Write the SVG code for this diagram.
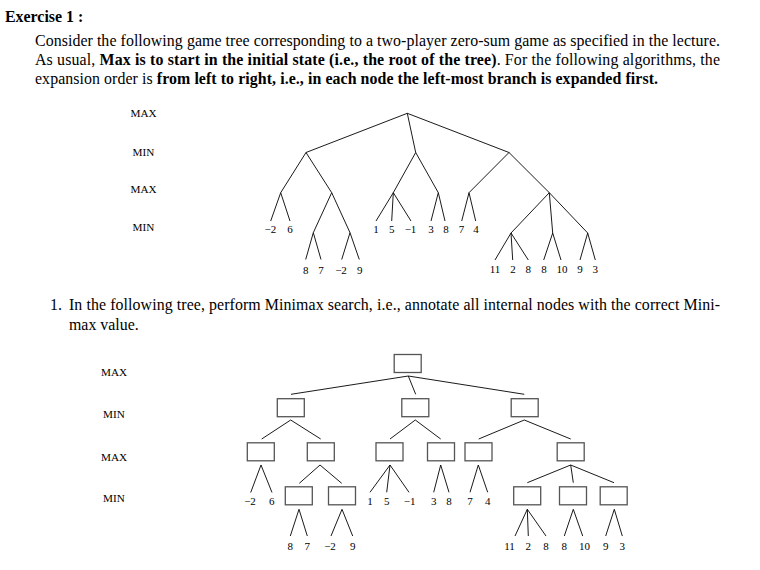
<svg xmlns="http://www.w3.org/2000/svg" width="760" height="570" viewBox="0 0 760 570">
<style>
.body{font-family:"Liberation Serif","Times New Roman",serif;font-size:15.9px;fill:#000}
.b{font-weight:bold}
.lvl{font-family:"Liberation Serif","Times New Roman",serif;font-size:11.2px;fill:#000;text-anchor:middle}
.num{font-family:"Liberation Serif","Times New Roman",serif;font-size:11px;fill:#000;text-anchor:middle}
.e line{stroke:#000;stroke-width:0.9}
.box{fill:#fff;stroke:#555;stroke-width:1.3}
</style>
<rect width="760" height="570" fill="#fff"/>
<text class="body b" x="5" y="22">Exercise 1 :</text>
<text class="body" x="35" y="46" textLength="685" lengthAdjust="spacing">Consider the following game tree corresponding to a two-player zero-sum game as specified in the lecture.</text>
<text class="body" x="35" y="65" textLength="685" lengthAdjust="spacing">As usual, <tspan class="b">Max is to start in the initial state (i.e., the root of the tree)</tspan>. For the following algorithms, the</text>
<text class="body" x="35" y="84" textLength="623" lengthAdjust="spacing">expansion order is <tspan class="b">from left to right, i.e., in each node the left-most branch is expanded first.</tspan></text>
<text class="body" x="50" y="310">1.</text>
<text class="body" x="69" y="310" textLength="651" lengthAdjust="spacing">In the following tree, perform Minimax search, i.e., annotate all internal nodes with the correct Mini-</text>
<text class="body" x="69" y="330">max value.</text>

<g id="levels-top">
<text class="lvl" x="143.5" y="117.3">MAX</text>
<text class="lvl" x="143.5" y="155.7">MIN</text>
<text class="lvl" x="143.5" y="193">MAX</text>
<text class="lvl" x="143.5" y="230.7">MIN</text>
</g>
<g id="levels-bottom">
<text class="lvl" x="114" y="376.3">MAX</text>
<text class="lvl" x="114" y="418.3">MIN</text>
<text class="lvl" x="114" y="460.7">MAX</text>
<text class="lvl" x="114" y="502.3">MIN</text>
</g>

<g id="connectors-top" class="e">
<line x1="407.3" y1="113.3" x2="306" y2="152.5"/>
<line x1="407.3" y1="113.3" x2="415.7" y2="152.5"/>
<line x1="407.3" y1="113.3" x2="509" y2="152.5"/>
<line x1="306" y1="152.5" x2="280.7" y2="192.7"/>
<line x1="306" y1="152.5" x2="331.7" y2="192.7"/>
<line x1="415.7" y1="152.5" x2="393.3" y2="192.7"/>
<line x1="415.7" y1="152.5" x2="438.3" y2="192.7"/>
<line x1="509" y1="152.5" x2="469" y2="192.7"/>
<line x1="509" y1="152.5" x2="549.3" y2="192.7"/>
<line x1="280.7" y1="192.7" x2="270.7" y2="221"/>
<line x1="280.7" y1="192.7" x2="290" y2="221"/>
<line x1="331.7" y1="192.7" x2="313.3" y2="232.7"/>
<line x1="331.7" y1="192.7" x2="350" y2="232.7"/>
<line x1="313.3" y1="232.7" x2="305.7" y2="259.5"/>
<line x1="313.3" y1="232.7" x2="321" y2="259.5"/>
<line x1="350" y1="232.7" x2="341.7" y2="259.5"/>
<line x1="350" y1="232.7" x2="359.3" y2="259.5"/>
<line x1="393.3" y1="192.7" x2="376" y2="221"/>
<line x1="393.3" y1="192.7" x2="391.7" y2="221"/>
<line x1="393.3" y1="192.7" x2="411" y2="221"/>
<line x1="438.3" y1="192.7" x2="431" y2="221"/>
<line x1="438.3" y1="192.7" x2="445" y2="221"/>
<line x1="469" y1="192.7" x2="461.7" y2="221"/>
<line x1="469" y1="192.7" x2="475.7" y2="221"/>
<line x1="549.3" y1="192.7" x2="511" y2="233"/>
<line x1="549.3" y1="192.7" x2="552.7" y2="233"/>
<line x1="549.3" y1="192.7" x2="587.7" y2="233"/>
<line x1="511" y1="233" x2="495" y2="260"/>
<line x1="511" y1="233" x2="512.7" y2="260"/>
<line x1="511" y1="233" x2="528.3" y2="260"/>
<line x1="552.7" y1="233" x2="543.7" y2="260"/>
<line x1="552.7" y1="233" x2="561" y2="260"/>
<line x1="587.7" y1="233" x2="580" y2="260"/>
<line x1="587.7" y1="233" x2="595.3" y2="260"/>
</g>

<g id="leaves-top">
<g id="t-l1"><text class="num" x="270.3" y="233">−2</text></g>
<g id="t-l2"><text class="num" x="290" y="233">6</text></g>
<g id="t-l3"><text class="num" x="305.7" y="273.6">8</text></g>
<g id="t-l4"><text class="num" x="321" y="273.6">7</text></g>
<g id="t-l5"><text class="num" x="341" y="273.6">−2</text></g>
<g id="t-l6"><text class="num" x="359.7" y="273.6">9</text></g>
<g id="t-l7"><text class="num" x="376" y="233">1</text></g>
<g id="t-l8"><text class="num" x="391.7" y="233">5</text></g>
<g id="t-l9"><text class="num" x="410.5" y="233">−1</text></g>
<g id="t-l10"><text class="num" x="431" y="233">3</text></g>
<g id="t-l11"><text class="num" x="446" y="233">8</text></g>
<g id="t-l12"><text class="num" x="461.5" y="233">7</text></g>
<g id="t-l13"><text class="num" x="476" y="233">4</text></g>
<g id="t-l14"><text class="num" x="495" y="273.4">11</text></g>
<g id="t-l15"><text class="num" x="513" y="273.4">2</text></g>
<g id="t-l16"><text class="num" x="528.3" y="273.4">8</text></g>
<g id="t-l17"><text class="num" x="544" y="273.4">8</text></g>
<g id="t-l18"><text class="num" x="562" y="273.4">10</text></g>
<g id="t-l19"><text class="num" x="580" y="273.4">9</text></g>
<g id="t-l20"><text class="num" x="595.3" y="273.4">3</text></g>
</g>

<g id="connectors-bottom" class="e">
<line x1="408.3" y1="376" x2="291" y2="394.3"/>
<line x1="408.3" y1="376" x2="415.7" y2="394.3"/>
<line x1="408.3" y1="376" x2="524.3" y2="394.3"/>
<line x1="290.7" y1="420" x2="261.7" y2="439"/>
<line x1="290.7" y1="420" x2="320.7" y2="439"/>
<line x1="415.3" y1="420" x2="390" y2="439"/>
<line x1="415.3" y1="420" x2="440.7" y2="439"/>
<line x1="524.3" y1="420" x2="478.7" y2="439"/>
<line x1="524.3" y1="420" x2="570.7" y2="439"/>
<line x1="261" y1="465" x2="250.7" y2="492.5"/>
<line x1="261" y1="465" x2="272" y2="492.5"/>
<line x1="320" y1="465" x2="299.3" y2="483.3"/>
<line x1="320" y1="465" x2="341.7" y2="483.3"/>
<line x1="299" y1="509.3" x2="290.3" y2="536"/>
<line x1="299" y1="509.3" x2="307.3" y2="536"/>
<line x1="342" y1="509.3" x2="331" y2="536"/>
<line x1="342" y1="509.3" x2="352.7" y2="536"/>
<line x1="390" y1="465" x2="370" y2="492.3"/>
<line x1="390" y1="465" x2="386.7" y2="492.3"/>
<line x1="390" y1="465" x2="409" y2="492.3"/>
<line x1="440.7" y1="465" x2="433.7" y2="492.3"/>
<line x1="440.7" y1="465" x2="449" y2="492.3"/>
<line x1="478.3" y1="465" x2="470" y2="492.3"/>
<line x1="478.3" y1="465" x2="487.7" y2="492.3"/>
<line x1="570.7" y1="465" x2="527.3" y2="482.7"/>
<line x1="570.7" y1="465" x2="573.3" y2="482.7"/>
<line x1="570.7" y1="465" x2="614" y2="482.7"/>
<line x1="527.3" y1="509.3" x2="515" y2="536"/>
<line x1="527.3" y1="509.3" x2="528.3" y2="536"/>
<line x1="527.3" y1="509.3" x2="546" y2="536"/>
<line x1="573.3" y1="509.3" x2="564.3" y2="536"/>
<line x1="573.3" y1="509.3" x2="582.7" y2="536"/>
<line x1="614.3" y1="509.3" x2="605.7" y2="536"/>
<line x1="614.3" y1="509.3" x2="622.3" y2="536"/>
</g>

<g id="b-root"><rect class="box" x="394.2" y="354.5" width="27" height="18"/></g>
<g id="b-min1"><rect class="box" x="277.3" y="398.7" width="27" height="18"/></g>
<g id="b-min2"><rect class="box" x="401.8" y="398.7" width="27" height="18"/></g>
<g id="b-min3"><rect class="box" x="511.2" y="398.7" width="27" height="18"/></g>
<g id="b-max1"><rect class="box" x="247.3" y="442.8" width="27" height="18"/></g>
<g id="b-max2"><rect class="box" x="307.3" y="442.8" width="27" height="18"/></g>
<g id="b-max3"><rect class="box" x="376" y="442.8" width="27" height="18"/></g>
<g id="b-max4"><rect class="box" x="427.5" y="442.8" width="27" height="18"/></g>
<g id="b-max5"><rect class="box" x="465" y="442.8" width="27" height="18"/></g>
<g id="b-max6"><rect class="box" x="557.2" y="442.8" width="27" height="18"/></g>
<g id="b-min4"><rect class="box" x="285.3" y="486.8" width="27" height="18"/></g>
<g id="b-min5"><rect class="box" x="328.5" y="486.8" width="27" height="18"/></g>
<g id="b-min6"><rect class="box" x="513.7" y="486.8" width="27" height="18"/></g>
<g id="b-min7"><rect class="box" x="559.5" y="486.8" width="27" height="18"/></g>
<g id="b-min8"><rect class="box" x="600.2" y="486.8" width="27" height="18"/></g>

<g id="leaves-bottom">
<g id="b-l1"><text class="num" x="250" y="505.4">−2</text></g>
<g id="b-l2"><text class="num" x="271.7" y="505.4">6</text></g>
<g id="b-l3"><text class="num" x="290.3" y="549.7">8</text></g>
<g id="b-l4"><text class="num" x="307.3" y="549.7">7</text></g>
<g id="b-l5"><text class="num" x="330" y="549.7">−2</text></g>
<g id="b-l6"><text class="num" x="352.7" y="549.7">9</text></g>
<g id="b-l7"><text class="num" x="370" y="505.4">1</text></g>
<g id="b-l8"><text class="num" x="386.7" y="505.4">5</text></g>
<g id="b-l9"><text class="num" x="409.7" y="505.4">−1</text></g>
<g id="b-l10"><text class="num" x="433.7" y="505.4">3</text></g>
<g id="b-l11"><text class="num" x="449" y="505.4">8</text></g>
<g id="b-l12"><text class="num" x="470" y="505.4">7</text></g>
<g id="b-l13"><text class="num" x="487.7" y="505.4">4</text></g>
<g id="b-l14"><text class="num" x="509.5" y="549.7">11</text></g>
<g id="b-l15"><text class="num" x="528.3" y="549.7">2</text></g>
<g id="b-l16"><text class="num" x="546" y="549.7">8</text></g>
<g id="b-l17"><text class="num" x="564.3" y="549.7">8</text></g>
<g id="b-l18"><text class="num" x="584.5" y="549.7">10</text></g>
<g id="b-l19"><text class="num" x="605.7" y="549.7">9</text></g>
<g id="b-l20"><text class="num" x="622.3" y="549.7">3</text></g>
</g>
</svg>
